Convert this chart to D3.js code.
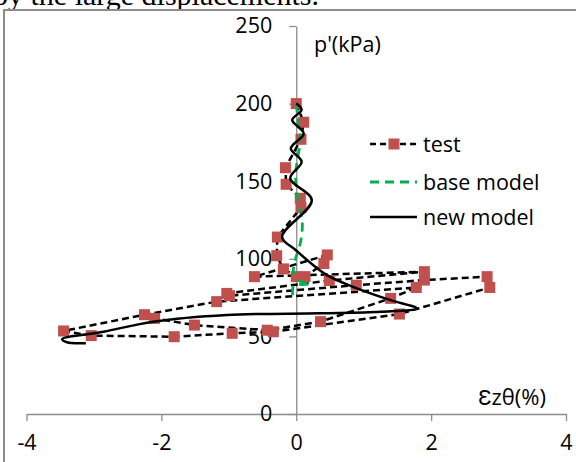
<!DOCTYPE html>
<html>
<head>
<meta charset="utf-8">
<script src="https://cdn.jsdelivr.net/npm/d3@7"></script>
<style>
  body { margin: 0; background: #fff; }
  svg { display: block; }
  text { font-family: "Open Sans", sans-serif; }
</style>
</head>
<body>
<div id="chart"></div>
<script>
// test series (strain %, p' kPa)
var testStrain = [0, 0.11, 0.07, -0.16, -0.15, 0.06, 0.07, -0.28, -0.29, -0.19, 0, 0.13, 0.41, 0.46,
  -0.62, 1.9, 0.49, -1.03, -0.99, 0.89, 1.9, 2.83, 2.87, 1.53, -0.34, -0.95, -1.81, -3.04, -3.45,
  -2.25, -1.18, 1.78, 1.4, 0.36, -0.43, -1.51, -2.1];
var testP = [200, 188, 177, 158.7, 148, 139, 133, 114, 102, 93.5, 88.5, 88.5, 97, 102.5,
  88.5, 91.7, 86, 77.7, 76.2, 83, 86.3, 88.5, 81.5, 64.4, 53, 52, 49.8, 50.5, 53.5,
  64, 72.4, 81.5, 74.5, 59.5, 54, 57.3, 61.6];

// base model
var baseStrain = [0, 0.03, 0.06, 0.01, -0.01, 0.03, 0.09, 0.06, 0, -0.04, -0.04, 0.06, 0.21, -0.04, -0.04];
var baseP = [200, 188, 177, 162, 153, 138, 123, 110, 101.5, 94, 91, 85.5, 83.8, 82.3, 73.5];

// new model
var newStrain = [0, 0.08, -0.06, 0.11, -0.08, 0.08, -0.09, 0.23, -0.21, -0.01, 0.45, 0.9, 1.39, 1.79,
  1.25, 0.36, -1.03, -2.12, -2.86, -3.47, -3.4, -3.12];
var newP = [200, 196, 189.4, 180.8, 171.1, 162.5, 151.8, 137.8, 114.2, 105.7, 89.6, 81, 73.5, 68,
  65.9, 64.9, 63.8, 59.5, 53, 48.3, 46.2, 45.6];

var xTicks = [-4, -2, 0, 2, 4];
var yTicks = [0, 50, 100, 150, 200, 250];
var seriesNames = ["test", "base model", "new model"];

var width = 576, height = 462;
var fs = "21.5px";

var svg = d3.select("#chart")
  .append("svg")
    .attr("width", width)
    .attr("height", height);

// cut-off caption line from the page above
svg.append("text")
  .attr("x", -7)
  .attr("y", 5)
  .style("font-family", "'Liberation Serif', serif")
  .style("font-size", "30px")
  .text("by the large displacements.");

// chart frame
svg.append("rect")
  .attr("x", 4).attr("y", 10)
  .attr("width", 620).attr("height", 520)
  .attr("fill", "none")
  .attr("stroke", "#8c8c8c")
  .attr("stroke-width", 2);

var x = d3.scaleLinear().domain([-4, 4]).range([26.5, 566]);
var y = d3.scaleLinear().domain([0, 250]).range([414, 26]);

// X axis
var gx = svg.append("g")
  .attr("transform", "translate(0," + y(0) + ")")
  .call(d3.axisBottom(x).tickValues(xTicks).tickSize(7).tickSizeOuter(0).tickPadding(14)
    .tickFormat(function(d) { return String(d); }));

// Y axis
var gy = svg.append("g")
  .attr("transform", "translate(" + x(0) + ",0)")
  .call(d3.axisLeft(y).tickValues(yTicks).tickSize(7).tickSizeOuter(0).tickPadding(17)
    .tickFormat(function(d) { return String(d); }));

[gx, gy].forEach(function(g) {
  g.select(".domain").attr("stroke", "#8c8c8c").attr("stroke-width", 1.3);
  g.selectAll(".tick line").attr("stroke", "#8c8c8c").attr("stroke-width", 1.3);
  g.selectAll(".tick text").attr("fill", "#000").style("font-size", fs)
    .style("font-family", "'Open Sans', sans-serif");
});

// axis titles
svg.append("text").attr("x", 314).attr("y", 52).style("font-size", fs).text("p'(kPa)");
svg.append("text").attr("x", 546).attr("y", 405).attr("text-anchor", "end")
  .style("font-size", "22px").text("\u0190z\u03b8(%)");

var testData = testStrain.map(function(d, i) { return [d, testP[i]]; });
var baseData = baseStrain.map(function(d, i) { return [d, baseP[i]]; });
var newData = newStrain.map(function(d, i) { return [d, newP[i]]; });

var straight = d3.line()
  .x(function(d) { return x(d[0]); })
  .y(function(d) { return y(d[1]); });
var smooth = d3.line()
  .x(function(d) { return x(d[0]); })
  .y(function(d) { return y(d[1]); })
  .curve(d3.curveCatmullRom.alpha(0.5));

// test: dashed line + square markers
svg.append("path")
  .attr("d", straight(testData))
  .attr("fill", "none")
  .attr("stroke", "#000")
  .attr("stroke-width", 2.5)
  .attr("stroke-dasharray", "7,4");

svg.selectAll("rect.mark")
  .data(testData)
  .enter()
  .append("rect")
    .attr("class", "mark")
    .attr("x", function(d) { return x(d[0]) - 5.5; })
    .attr("y", function(d) { return y(d[1]) - 5.5; })
    .attr("width", 11)
    .attr("height", 11)
    .attr("fill", "#C0504D");

svg.append("path")
  .attr("d", smooth(baseData))
  .attr("fill", "none")
  .attr("stroke", "#00B050")
  .attr("stroke-width", 2.8)
  .attr("stroke-dasharray", "9,6");

svg.append("path")
  .attr("d", smooth(newData))
  .attr("fill", "none")
  .attr("stroke", "#000")
  .attr("stroke-width", 2.5);

// legend
var legY = [144, 182, 217];
var leg = svg.append("g");
leg.append("line").attr("x1", 370).attr("x2", 417).attr("y1", legY[0]).attr("y2", legY[0])
  .attr("stroke", "#000").attr("stroke-width", 2.5).attr("stroke-dasharray", "6,4");
leg.append("rect").attr("x", 388.5).attr("y", legY[0] - 5.5).attr("width", 11).attr("height", 11)
  .attr("fill", "#C0504D");
leg.append("line").attr("x1", 370).attr("x2", 417).attr("y1", legY[1]).attr("y2", legY[1])
  .attr("stroke", "#00B050").attr("stroke-width", 2.8).attr("stroke-dasharray", "9,6");
leg.append("line").attr("x1", 370).attr("x2", 417).attr("y1", legY[2]).attr("y2", legY[2])
  .attr("stroke", "#000").attr("stroke-width", 2.5);
leg.selectAll("text.lab")
  .data(seriesNames)
  .enter()
  .append("text")
    .attr("class", "lab")
    .attr("x", 423)
    .attr("y", function(d, i) { return legY[i] + 7.5; })
    .style("font-size", fs)
    .text(function(d) { return d; });
</script>
</body>
</html>
